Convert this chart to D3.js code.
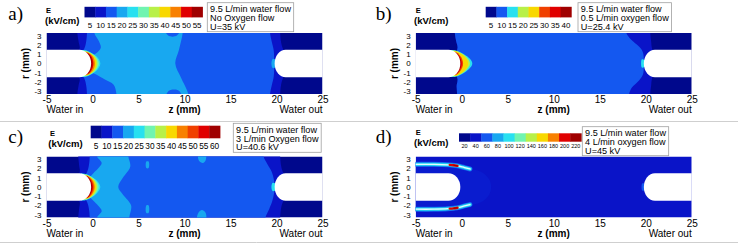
<!DOCTYPE html>
<html>
<head>
<meta charset="utf-8">
<script src="https://cdn.jsdelivr.net/npm/d3@7"></script>
<style>
  body { margin: 0; background: #fff; }
  svg { display: block; }
  text { font-family: "Liberation Sans", Arial, sans-serif; fill: #000; }
</style>
</head>
<body>
<svg id="chart" width="738" height="245"></svg>
<script>
// Axis ticks (mm)
const zTicks = [-5, 0, 5, 10, 15, 20, 25];
const rTicks = [3, 2, 1, 0, -1, -2, -3];

// Contour colours (Tecplot-like rainbow)
const palette = {
  navy: '#00088c', blue: '#0a14c8', haze: '#0a1ccf', royal: '#1458f0', sky: '#18a8f0',
  cyan: '#28e0f0', aqua: '#70f4b0', lime: '#b8f048', yellow: '#f8d800',
  orange: '#f88000', redorange: '#f04000', red: '#e00000', dark: '#a00000', core: '#e4fbff'
};

// Colour legend bands and labels per panel (kV/cm)
const bandsA = ['navy', 'blue', 'royal', 'sky', 'cyan', 'aqua', 'lime', 'yellow', 'orange', 'red', 'dark'];
const labelsA = [5, 10, 15, 20, 25, 30, 35, 40, 45, 50, 55];
const bandsB = ['navy', 'royal', 'cyan', 'lime', 'yellow', 'redorange', 'red', 'dark'];
const labelsB = [5, 10, 15, 20, 25, 30, 35, 40];
const bandsC = ['navy', 'blue', 'royal', 'sky', 'cyan', 'aqua', 'lime', 'yellow', 'orange', 'redorange', 'red', 'dark'];
const labelsC = [5, 10, 15, 20, 25, 30, 35, 40, 45, 50, 55, 60];
const bandsD = ['navy', 'blue', 'royal', 'sky', 'cyan', 'aqua', 'lime', 'yellow', 'orange', 'red', 'dark'];
const labelsD = [20, 40, 60, 80, 100, 120, 140, 160, 180, 200, 220];

// Operating conditions
const notesA = ['9.5 L/min water flow', 'No Oxygen flow', 'U=35 kV'];
const notesB = ['9.5 L/min water flow', '0.5 L/min oxygen flow', 'U=25.4 kV'];
const notesC = ['9.5 L/min water flow', '3 L/min Oxygen flow', 'U=40.6 kV'];
const notesD = ['9.5 L/min water flow', '4 L/min oxygen flow', 'U=45 kV'];

// Contour regions, [colour, [[z, r], ...]] in mm, painted in order
const regionsA = [
  ['blue', [[-1.65, 4.2], [-1.65, 3.3], [-1.5, 2.3], [-1.4, 1.6], [-2.5, 0], [-1.4, -1.6], [-1.5, -2.3], [-1.65, -3.3], [-1.65, -4.2],
            [20.4, -4.2], [20.4, -3.3], [20.5, -2.3], [20.7, -1.6], [21.5, 0], [20.7, 1.6], [20.5, 2.3], [20.4, 3.3], [20.4, 4.2]]],
  ['royal', [[-0.6, 4.2], [-0.6, 3.3], [-0.7, 2.3], [-0.9, 1.6], [-2, 0], [-0.9, -1.6], [-0.7, -2.3], [-0.6, -3.3], [-0.6, -4.2],
             [19.3, -4.2], [19.3, -3.3], [19.5, -2.3], [19.7, -1.4], [19.75, 0], [19.7, 1.4], [19.5, 2.3], [19.3, 3.3], [19.3, 4.2]]],
  ['sky', [[0.2, 4.2], [0.2, 3.3], [0.7, 2.4], [0.9, 1.7], [0.4, 1.1], [-1.5, 0], [0.4, -1.2], [1.3, -1.7], [2.3, -2.3], [2.6, -3.3], [2.6, -4.2],
           [10.4, -4.2], [10.4, -3.3], [9.6, -1.5], [9.0, 0], [9.4, 1.5], [9.8, 3.3], [9.8, 4.2]]],
  ['royal', [[7.9, 3.6], [8.2, 3.05], [8.7, 2.9], [9.2, 3.05], [9.5, 3.6]]],
  ['royal', [[8.0, -3.6], [8.3, -2.95], [8.9, -2.8], [9.4, -2.95], [9.7, -3.6]]],
  ['sky', [[19.6, 0.5], [19.45, 0], [19.6, -0.5], [20.4, 0]]]
];
const regionsB = [
  ['blue', [[-0.75, 4.2], [-0.75, 3.3], [-0.6, 2.4], [-0.45, 1.7], [-1.0, 0], [-0.45, -1.7], [-0.55, -2.4], [-0.5, -3.3], [-0.5, -4.2],
            [20.5, -4.2], [20.5, -3.3], [20.6, -2.3], [20.7, -1.6], [21.5, 0], [20.7, 1.6], [20.6, 2.3], [20.5, 3.3], [20.5, 4.2]]],
  ['royal', [[-0.75, 4.2], [-0.75, 3.3], [-0.6, 2.4], [-0.45, 1.7], [-1.0, 0], [-0.45, -1.7], [-0.55, -2.4], [-0.5, -3.3], [-0.5, -4.2],
             [18.2, -4.2], [18.2, -3.3], [18.5, -2.6], [19.3, -1.8], [19.7, -1.2], [19.8, 0], [19.7, 1.2], [19.3, 1.8], [18.4, 2.6], [17.9, 3.3], [17.9, 4.2]]],
  ['cyan', [[19.6, 0.45], [19.5, 0], [19.6, -0.45], [20.4, 0]]]
];
const regionsC = [
  ['blue', [[-1.55, 4.2], [-1.55, 3.3], [-1.45, 2.3], [-1.4, 1.6], [-2.5, 0], [-1.4, -1.6], [-1.45, -2.3], [-1.55, -3.3], [-1.55, -4.2],
            [20.4, -4.2], [20.4, -3.3], [20.5, -2.3], [20.7, -1.6], [21.5, 0], [20.7, 1.6], [20.5, 2.3], [20.4, 3.3], [20.4, 4.2]]],
  ['royal', [[-0.3, 4.2], [-0.3, 3.3], [-0.4, 2.3], [-0.6, 1.6], [-1.5, 0], [-0.6, -1.6], [-0.4, -2.3], [-0.3, -3.3], [-0.3, -4.2],
             [18.8, -4.2], [18.8, -3.3], [19.2, -2.4], [19.55, -1.5], [19.8, 0], [19.5, 1.6], [19.0, 2.5], [18.6, 3.3], [18.6, 4.2]]],
  ['sky', [[0.5, 4.2], [0.5, 3.3], [1.0, 2.6], [0.6, 2.0], [0.1, 1.5], [-1.0, 0], [0.1, -1.5], [0.6, -2.0], [1.0, -2.6], [0.5, -3.3], [0.5, -4.2],
           [4.0, -4.2], [4.0, -3.3], [4.2, -2.0], [3.3, -0.8], [2.8, 0], [3.3, 1.0], [4.1, 2.2], [3.9, 3.3], [3.9, 4.2]]],
  ['sky', [[5.85, 2.05], [6.1, 2.05], [6.1, 2.75], [5.85, 2.75]]],
  ['sky', [[5.85, -2.0], [6.1, -2.0], [6.1, -2.8], [5.85, -2.8]]],
  ['sky', [[11.5, 3.5], [11.6, 2.8], [12.0, 2.6], [12.3, 2.9], [12.3, 3.5]]],
  ['sky', [[11.4, -3.5], [11.5, -2.8], [11.9, -2.5], [12.3, -2.8], [12.3, -3.5]]],
  ['cyan', [[19.6, 0.45], [19.45, 0], [19.6, -0.45], [20.4, 0]]]
];
const regionsD = [
  ['haze', [[-5.5, 2.4], [-1, 2.35], [0.8, 2.0], [2.2, 1.6], [3.0, 0.8], [3.2, 0], [3.0, -0.8], [2.2, -1.6], [0.8, -2.0], [-1, -2.3], [-5.5, -2.35]]],
  ['royal', [[19.65, 0.4], [19.55, 0], [19.65, -0.4], [20.4, 0]]]
];

// High-field crescents at the inlet electrode tip: [colour, zEnd, rEnd, z at r=0.8, z at r=0]
const tipA = [
  ['cyan', -1.2, 1.45, 0.4, 0.85], ['aqua', -1.05, 1.38, 0.3, 0.7], ['lime', -0.95, 1.32, 0.2, 0.55],
  ['yellow', -0.85, 1.27, 0.1, 0.42], ['orange', -0.75, 1.22, 0.0, 0.27], ['red', -0.7, 1.18, -0.15, 0.1],
  ['dark', -0.64, 1.14, -0.25, -0.02]
];
const tipB = [
  ['cyan', -1.15, 1.45, 0.55, 1.15], ['lime', -1.0, 1.38, 0.4, 0.9], ['yellow', -0.9, 1.32, 0.25, 0.7],
  ['redorange', -0.8, 1.24, -0.15, 0.15], ['red', -0.72, 1.18, -0.26, 0.02], ['dark', -0.66, 1.14, -0.31, -0.08]
];
const tipC = [
  ['cyan', -1.2, 1.45, 0.35, 0.85], ['aqua', -1.05, 1.38, 0.25, 0.68], ['lime', -0.95, 1.32, 0.15, 0.52],
  ['yellow', -0.88, 1.27, 0.05, 0.38], ['orange', -0.8, 1.23, -0.05, 0.25], ['redorange', -0.74, 1.2, -0.14, 0.14],
  ['red', -0.68, 1.17, -0.22, 0.05], ['dark', -0.63, 1.14, -0.28, -0.04]
];
const tipD = [];

// Surface discharge streaks along the inlet electrode (panel d)
const streakTop = [[-5.2, 2.45], [-3, 2.45], [-1.5, 2.4], [-0.5, 2.3], [0.3, 2.1], [0.9, 1.95]];
const streakBottom = [[-5.2, -2.4], [-3, -2.4], [-1.5, -2.35], [-0.5, -2.25], [0.3, -2.05], [0.9, -1.9]];
const hotTop = [[-1.3, 2.39], [-0.9, 2.36], [-0.45, 2.29]];
const hotBottom = [[-1.3, -2.34], [-0.9, -2.31], [-0.45, -2.24]];

// Electrode geometry (mm)
const electrodeRadius = 1.5;
const inletCap = { center: -1.45, depth: 1.3 };
const outletCap = { center: 21.0, depth: 1.2 };

const panels = [
  { id: 'a', ox: 0, oy: 0, base: 'navy', bands: bandsA, labels: labelsA, notes: notesA, regions: regionsA, tip: tipA,
    bar: [84.5, 202.5, 6.8, 17.4], barLabelY: 27.7, barFont: 8, e: [46, 13.3], kv: [45, 24], note: [207.3, 2.7], letter: [8.3, 20] },
  { id: 'b', ox: 369.2, oy: 0, base: 'navy', bands: bandsB, labels: labelsB, notes: notesB, regions: regionsB, tip: tipB,
    bar: [116.5, 202.1, 6.8, 17.4], barLabelY: 27.7, barFont: 8, e: [46.5, 13.3], kv: [44.8, 24], note: [208.8, 2.7], letter: [6.5, 20] },
  { id: 'c', ox: 0, oy: 123.5, base: 'navy', bands: bandsC, labels: labelsC, notes: notesC, regions: regionsC, tip: tipC,
    bar: [90.7, 220, 2.2, 14.8], barLabelY: 25.8, barFont: 8.3, e: [50, 12.5], kv: [48.3, 23.2], note: [233.3, -0.2], letter: [8.3, 19.5] },
  { id: 'd', ox: 369.2, oy: 123.5, base: 'blue', bands: bandsD, labels: labelsD, notes: notesD, regions: regionsD, tip: tipD,
    bar: [89.8, 212.1, 9.8, 18.2], barLabelY: 24.8, barFont: 5.5, e: [46.5, 11.5], kv: [44.8, 22.5], note: [213.1, 3.2], letter: [6.5, 19.5],
    streaks: true }
];

const svg = d3.select('#chart');

// Panel frames
[121.5, 242.5].forEach(yy => {
  svg.append('line').attr('x1', 0).attr('x2', 738).attr('y1', yy).attr('y2', yy)
    .attr('stroke', '#cfcfcf').attr('stroke-width', 1);
});

panels.forEach(drawPanel);

function drawPanel(p) {
  const g = svg.append('g').attr('transform', `translate(${p.ox},${p.oy})`);
  const left = 46.5, right = 322.5, top = 33, bottom = 94;

  const x = d3.scaleLinear().domain([-5, 25]).range([left, right]);
  const y = d3.scaleLinear().domain([-3.3, 3.3]).range([bottom, top]);

  g.append('clipPath').attr('id', 'clip-' + p.id)
    .append('rect')
    .attr('x', left).attr('y', top)
    .attr('width', right - left).attr('height', bottom - top);

  const plot = g.append('g').attr('clip-path', `url(#clip-${p.id})`);

  plot.append('rect')
    .attr('x', left).attr('y', top)
    .attr('width', right - left).attr('height', bottom - top)
    .attr('fill', palette[p.base]);

  const blob = d3.line()
    .x(d => x(d[0]))
    .y(d => y(d[1]))
    .curve(d3.curveCatmullRomClosed.alpha(0.5));

  // crescents become closed outlines that dip inside the electrode
  const tipRegions = p.tip.map(t => [t[0], [[t[1], t[2]], [t[3], 0.8], [t[4], 0], [t[3], -0.8], [t[1], -t[2]], [-2.2, 0]]]);

  plot.selectAll('path.region')
    .data(p.regions.concat(tipRegions))
    .join('path')
    .attr('class', 'region')
    .attr('d', d => blob(d[1]))
    .attr('fill', d => palette[d[0]]);

  if (p.streaks) {
    const streak = d3.line().x(d => x(d[0])).y(d => y(d[1])).curve(d3.curveCatmullRom);
    const layers = [['royal', 5], ['sky', 3.8], ['cyan', 2.6], ['core', 1.3]];
    [streakTop, streakBottom].forEach(s => {
      layers.forEach(([c, w]) => {
        plot.append('path').attr('d', streak(s))
          .attr('fill', 'none').attr('stroke', palette[c]).attr('stroke-width', w)
          .attr('stroke-linecap', 'round');
      });
    });
    [hotTop, hotBottom].forEach(s => {
      plot.append('path').attr('d', streak(s))
        .attr('fill', 'none').attr('stroke', palette.red).attr('stroke-width', 2.4).attr('stroke-linecap', 'round');
      plot.append('path').attr('d', streak(s.slice(1)))
        .attr('fill', 'none').attr('stroke', palette.dark).attr('stroke-width', 1.1);
    });
  }

  // Electrodes (white)
  const ry = y(0) - y(electrodeRadius);
  const inletRx = x(inletCap.center + inletCap.depth) - x(inletCap.center);
  const outletRx = x(outletCap.center + outletCap.depth) - x(outletCap.center);
  plot.append('path')
    .attr('d', `M${x(-6)},${y(electrodeRadius)} L${x(inletCap.center)},${y(electrodeRadius)} ` +
      `A${inletRx},${ry} 0 0 1 ${x(inletCap.center)},${y(-electrodeRadius)} L${x(-6)},${y(-electrodeRadius)} Z`)
    .attr('fill', '#fff');
  plot.append('path')
    .attr('d', `M${x(26)},${y(electrodeRadius)} L${x(outletCap.center)},${y(electrodeRadius)} ` +
      `A${outletRx},${ry} 0 0 0 ${x(outletCap.center)},${y(-electrodeRadius)} L${x(26)},${y(-electrodeRadius)} Z`)
    .attr('fill', '#fff');

  // Axes
  const xAxis = g.append('g')
    .attr('transform', `translate(0,${bottom})`)
    .call(d3.axisBottom(x).tickValues(zTicks).tickSize(0).tickPadding(2).tickFormat(d => String(d)));
  xAxis.select('.domain').remove();
  xAxis.selectAll('text').attr('font-size', 10);

  const yAxis = g.append('g')
    .attr('transform', `translate(${left},0)`)
    .call(d3.axisLeft(y).tickValues(rTicks).tickSize(0).tickPadding(5).tickFormat(d => String(d)));
  yAxis.select('.domain').remove();
  yAxis.selectAll('text').attr('font-size', 8).attr('dy', '0.3em');

  g.append('text')
    .attr('transform', `translate(29,${(top + bottom) / 2}) rotate(-90)`)
    .attr('text-anchor', 'middle')
    .attr('font-size', 10).attr('font-weight', 'bold')
    .text('r (mm)');

  g.append('text')
    .attr('x', (left + right) / 2).attr('y', 113.3)
    .attr('text-anchor', 'middle')
    .attr('font-size', 10).attr('font-weight', 'bold')
    .text('z (mm)');

  g.append('text').attr('x', left).attr('y', 113.3).attr('font-size', 10).text('Water in');
  g.append('text').attr('x', right).attr('y', 113.3).attr('text-anchor', 'end').attr('font-size', 10).text('Water out');

  // Colour legend
  const band = d3.scaleBand().domain(p.labels).range([p.bar[0], p.bar[1]]);
  g.selectAll('rect.band')
    .data(p.labels)
    .join('rect')
    .attr('class', 'band')
    .attr('x', d => band(d))
    .attr('y', p.bar[2])
    .attr('width', band.bandwidth() + 0.4)
    .attr('height', p.bar[3] - p.bar[2])
    .attr('fill', (d, i) => palette[p.bands[i]]);

  g.selectAll('text.band-label')
    .data(p.labels)
    .join('text')
    .attr('class', 'band-label')
    .attr('x', d => band(d) + band.bandwidth() / 2)
    .attr('y', p.barLabelY)
    .attr('text-anchor', 'middle')
    .attr('font-size', p.barFont)
    .text(d => d);

  g.append('text').attr('x', p.e[0]).attr('y', p.e[1])
    .attr('font-size', 7.5).attr('font-weight', 'bold').text('E');
  g.append('text').attr('x', p.kv[0]).attr('y', p.kv[1])
    .attr('font-size', 9.5).attr('font-weight', 'bold').text('(kV/cm)');

  // Conditions box
  const box = g.append('rect')
    .attr('x', p.note[0]).attr('y', p.note[1])
    .attr('height', 29)
    .attr('fill', '#fff')
    .attr('stroke', '#a0a0a0').attr('stroke-width', 0.8);
  const lines = g.selectAll('text.note')
    .data(p.notes)
    .join('text')
    .attr('class', 'note')
    .attr('x', p.note[0] + 2.8)
    .attr('y', (d, i) => p.note[1] + 9.5 + i * 8.7)
    .attr('font-size', 9.1)
    .text(d => d);
  const widest = d3.max(lines.nodes(), n => n.getComputedTextLength());
  box.attr('width', widest + 5.5);

  // Panel letter
  g.append('text')
    .attr('x', p.letter[0]).attr('y', p.letter[1])
    .style('font-family', '"Liberation Serif", "Times New Roman", serif')
    .attr('font-size', 19)
    .text(p.id + ')');
}
</script>
</body>
</html>
